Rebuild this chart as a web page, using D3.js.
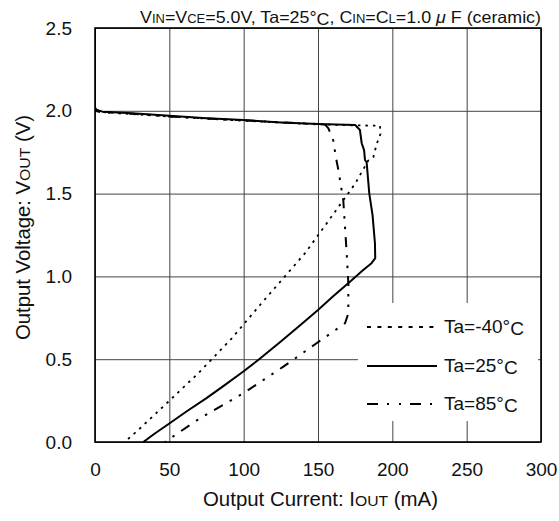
<!DOCTYPE html>
<html><head><meta charset="utf-8">
<script src="https://cdn.jsdelivr.net/npm/d3@7/dist/d3.min.js"></script>
<style>body{margin:0;background:#fff}svg{display:block}text{font-family:"Liberation Sans",Arial,sans-serif;fill:#111}</style>
</head><body><svg id="c" width="559" height="521"></svg>
<script>
// ---- data ----
const xTicks = [0, 50, 100, 150, 200, 250, 300];
const yTicks = [0.0, 0.5, 1.0, 1.5, 2.0, 2.5];
const legendLabels = ["Ta=-40", "Ta=25", "Ta=85"];

// Ta=-40°C (dotted)
const iM40 = [0, 0, 5, 25, 50, 100, 150, 175, 191.7, 192, 189.5, 187.2, 183.8, 175, 167, 155.8, 141.3, 112, 92, 70, 49.3, 30, 20];
const vM40 = [2.5, 2.01, 1.992, 1.98, 1.965, 1.94, 1.918, 1.912, 1.91, 1.86, 1.80, 1.72, 1.70, 1.56, 1.46, 1.32, 1.14, 0.838, 0.626, 0.42, 0.243, 0.08, 0.0];
// Ta=25°C (solid)
const i25 = [0, 0, 1, 5, 25, 50, 75, 100, 125, 150, 175, 178.2, 179.4, 181, 181.6, 182.7, 184.5, 186.7, 188.3, 188.5, 186, 180, 171.5, 160, 150, 137, 125, 110, 100, 87, 75, 62, 50, 40, 32.5];
const v25 = [2.5, 2.02, 2.005, 1.995, 1.985, 1.97, 1.955, 1.944, 1.93, 1.92, 1.914, 1.884, 1.804, 1.763, 1.703, 1.69, 1.50, 1.37, 1.2, 1.11, 1.08, 1.035, 0.968, 0.878, 0.797, 0.697, 0.607, 0.497, 0.427, 0.342, 0.265, 0.187, 0.112, 0.05, 0.0];
// Ta=85°C (dash-dot)
const i85 = [0, 0, 5, 25, 50, 100, 150, 155, 157, 160.3, 162, 163.7, 167, 169.3, 170.4, 170.4, 168.2, 149, 126.7, 99.8, 70.6, 47];
const v85 = [2.5, 2.0, 1.99, 1.982, 1.966, 1.942, 1.92, 1.915, 1.894, 1.82, 1.72, 1.643, 1.461, 1.14, 0.958, 0.777, 0.717, 0.596, 0.455, 0.294, 0.143, 0.0];

// ---- drawing ----
const svg = d3.select("#c");
const L = 95, R = 541, T = 28, B = 442;
const x = d3.scaleLinear().domain([0, 300]).range([L, R]);
const y = d3.scaleLinear().domain([0, 2.5]).range([B, T]);

// grid via axes
const gx = svg.append("g").attr("transform", `translate(0,${B})`)
  .call(d3.axisBottom(x).tickValues(xTicks).tickSize(-(B - T)).tickPadding(21).tickFormat(d3.format("d")));
gx.select(".domain").remove();
gx.selectAll("line").attr("stroke", "#444").attr("stroke-width", 1);
gx.selectAll("text").attr("font-size", 19).attr("fill", "#111");

const gy = svg.append("g").attr("transform", `translate(${L},0)`)
  .call(d3.axisLeft(y).tickValues(yTicks).tickSize(-(R - L)).tickPadding(23).tickFormat(d3.format(".1f")));
gy.select(".domain").remove();
gy.selectAll("line").attr("stroke", "#444").attr("stroke-width", 1);
gy.selectAll("text").attr("font-size", 19).attr("fill", "#111");

// legend background (hides grid)
svg.append("rect").attr("x", 358).attr("y", 303).attr("width", 180).attr("height", 118).attr("fill", "#fff");

// curves
const clip = svg.append("clipPath").attr("id", "clp").append("rect")
  .attr("x", L).attr("y", T).attr("width", R - L).attr("height", B - T);
const line = d3.line().x(d => x(d[0])).y(d => y(d[1]));
const styles = [
  {I: iM40, V: vM40, w: 1.8, dash: "2.5,5"},
  {I: i25, V: v25, w: 2, dash: null},
  {I: i85, V: v85, w: 2, dash: "10,8,2.5,8,2.5,8"}
];
styles.forEach(s => {
  const pts = s.I.map((v, i) => [v, s.V[i]]);
  const p = svg.append("path").attr("d", line(pts)).attr("fill", "none")
    .attr("stroke", "#000").attr("stroke-width", s.w).attr("clip-path", "url(#clp)")
    .attr("stroke-linejoin", "round");
  if (s.dash) p.attr("stroke-dasharray", s.dash);
});

// frame
svg.append("rect").attr("x", L).attr("y", T).attr("width", R - L).attr("height", B - T)
  .attr("fill", "none").attr("stroke", "#000").attr("stroke-width", 1.6);

// legend
const legY = [327, 366, 404];
styles.forEach((s, k) => {
  const l = svg.append("line").attr("x1", 367).attr("x2", 437).attr("y1", legY[k]).attr("y2", legY[k])
    .attr("stroke", "#000").attr("stroke-width", 2);
  if (k === 0) l.attr("stroke-dasharray", "4,6.4");
  if (k === 2) l.attr("stroke-dasharray", "11,9,2,10,2,9");
  const t = svg.append("text").attr("x", 444).attr("y", legY[k] + 6).attr("font-size", 19);
  t.append("tspan").text(legendLabels[k] + "°");
  t.append("tspan").attr("dy", 2).text("C");
});

// title
const tt = svg.append("text").attr("x", 541).attr("y", 23).attr("font-size", 16.5).attr("text-anchor", "end")
  .attr("textLength", 401).attr("lengthAdjust", "spacingAndGlyphs");
[["V", 0], ["IN", 1], ["=V", 0], ["CE", 1], ["=5.0V,  Ta=25°", 0], ["C", 2], [",  C", 4], ["IN", 1], ["=C", 0], ["L", 1], ["=1.0 ", 0], ["μ", 3], [" F  (ceramic)", 0]]
  .forEach(([s, k]) => {
    const sp = tt.append("tspan").text(s);
    if (k === 1) sp.attr("font-size", 12);
    if (k === 2) sp.attr("dy", 1.5);
    if (k === 3) sp.attr("font-style", "italic");
    if (k === 4) sp.attr("dy", -1.5);
  });

// x axis title
const xt = svg.append("text").attr("x", 320.5).attr("y", 506).attr("font-size", 19.5).attr("text-anchor", "middle")
  .attr("textLength", 235).attr("lengthAdjust", "spacingAndGlyphs");
xt.append("tspan").text("Output Current: I");
xt.append("tspan").attr("font-size", 15).text("OUT");
xt.append("tspan").text(" (mA)");

// y axis title
const yt = svg.append("text").attr("transform", "translate(30,227.5) rotate(-90)").attr("font-size", 20)
  .attr("text-anchor", "middle").attr("textLength", 225).attr("lengthAdjust", "spacingAndGlyphs");
yt.append("tspan").text("Output Voltage: V");
yt.append("tspan").attr("font-size", 15.5).text("OUT");
yt.append("tspan").text(" (V)");
</script></body></html>
